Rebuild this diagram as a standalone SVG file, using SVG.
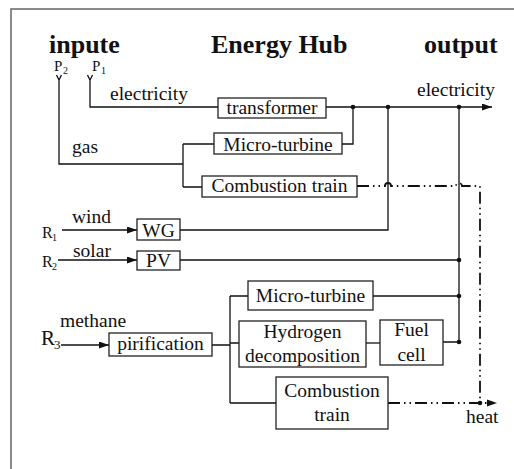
<svg xmlns="http://www.w3.org/2000/svg" width="514" height="469" viewBox="0 0 514 469" font-family="'Liberation Serif', serif">
<style>
text{font-family:'Liberation Serif',serif;fill:#111}
.h{font-size:26px;font-weight:bold}
.t{font-size:19.5px}
.c{text-anchor:middle}
.box{fill:#fff;stroke:#222;stroke-width:1.3}
.ln{fill:none;stroke:#111;stroke-width:1.3}
.dd{fill:none;stroke:#111;stroke-width:1.8;stroke-dasharray:12 4 1.5 4 1.5 4}
.dot{fill:#111}
</style>
<defs>
<marker id="arr" markerUnits="userSpaceOnUse" markerWidth="10" markerHeight="7" refX="10" refY="3.5" orient="auto">
<path d="M0,0 L10,3.5 L0,7 z" fill="#111"/>
</marker>
</defs>
<rect x="11" y="9" width="520" height="480" fill="none" stroke="#666" stroke-width="1.5"/>
<g id="titles">
<text class="h" x="49" y="53">inpute</text>
<text class="h" x="211" y="53">Energy Hub</text>
<text class="h" x="424" y="53">output</text>
</g>
<g id="labels">
<text x="54" y="71" font-size="15">P</text><text x="63" y="74" font-size="10">2</text>
<text x="92" y="71" font-size="15">P</text><text x="101" y="74" font-size="10">1</text>
<text class="t" x="110" y="100">electricity</text>
<text class="t" x="72" y="153">gas</text>
<text class="t" x="417" y="96">electricity</text>
<text x="42" y="238" font-size="16">R</text><text x="52" y="241" font-size="10">1</text>
<text class="t" x="72" y="223">wind</text>
<text x="42" y="267" font-size="16">R</text><text x="52" y="270" font-size="10">2</text>
<text class="t" x="73" y="257">solar</text>
<text x="41" y="345" font-size="21">R</text><text x="54" y="349" font-size="13">3</text>
<text class="t" x="60" y="327">methane</text>
<text class="t" x="466" y="423">heat</text>
</g>
<g id="connectors">
<path class="ln" d="M56.5,75 L59,80 L61.5,75 M59,80 V164 H183 M183,144 V187 M183,144 H214 M183,187 H202"/>
<path class="ln" d="M87.5,75 L90,80 L92.5,75 M90,80 V107 H218"/>
<path class="ln" d="M326,107 H492" marker-end="url(#arr)"/>
<path class="ln" d="M342,144 H353 V107"/>
<path class="ln" d="M180,230 H388 V107"/>
<path class="ln" d="M459,107 V342 H443"/>
<path class="ln" d="M180,260 H459"/>
<path class="ln" d="M62,230 H137" marker-end="url(#arr)"/>
<path class="ln" d="M58,260 H137" marker-end="url(#arr)"/>
<path class="ln" d="M61,345 H109" marker-end="url(#arr)"/>
<path class="ln" d="M212,345 H230 M230,296 V403 M230,296 H248 M230,343 H239 M230,403 H276"/>
<path class="ln" d="M373,296 H459"/>
<path class="ln" d="M366,343 H380"/>
<path class="dd" d="M357,186 H385 a3,3 0 0 1 6,0 H456 a3,3 0 0 1 6,0 H480 V403"/>
<path class="dd" d="M388,403 H489"/>
<path d="M487,399.5 L497,403 L487,406.5 z" fill="#111"/>
<circle class="dot" cx="353" cy="107" r="2.3"/>
<circle class="dot" cx="388" cy="107" r="2.3"/>
<circle class="dot" cx="459" cy="107" r="2.3"/>
<circle class="dot" cx="459" cy="260" r="2.3"/>
<circle class="dot" cx="459" cy="296" r="2.3"/>
<circle class="dot" cx="459" cy="342" r="2.3"/>
<circle class="dot" cx="480" cy="403" r="2.3"/>
</g>
<g id="transformer"><rect class="box" x="218" y="98" width="108" height="20"/><text class="t c" x="272" y="114">transformer</text></g>
<g id="micro-turbine-1"><rect class="box" x="214" y="133" width="128" height="21"/><text class="t c" x="278" y="151">Micro-turbine</text></g>
<g id="combustion-train-1"><rect class="box" x="202" y="176" width="155" height="21"/><text class="t c" x="279.5" y="192">Combustion train</text></g>
<g id="wg"><rect class="box" x="137" y="219" width="43" height="21"/><text class="t c" x="158.5" y="237">WG</text></g>
<g id="pv"><rect class="box" x="137" y="251" width="43" height="19"/><text class="t c" x="158.5" y="267">PV</text></g>
<g id="pirification"><rect class="box" x="109" y="333" width="103" height="23"/><text class="t c" x="160.5" y="350">pirification</text></g>
<g id="micro-turbine-2"><rect class="box" x="248" y="281" width="125" height="29"/><text class="t c" x="310.5" y="302">Micro-turbine</text></g>
<g id="hydrogen-decomposition"><rect class="box" x="239" y="321" width="127" height="46"/><text class="t c" x="302.5" y="338">Hydrogen</text><text class="t c" x="302.5" y="362">decomposition</text></g>
<g id="fuel-cell"><rect class="box" x="380" y="320" width="63" height="45"/><text class="t c" x="411.5" y="336">Fuel</text><text class="t c" x="411.5" y="361">cell</text></g>
<g id="combustion-train-2"><rect class="box" x="276" y="377" width="112" height="52"/><text class="t c" x="332" y="397">Combustion</text><text class="t c" x="332" y="421">train</text></g>
</svg>
